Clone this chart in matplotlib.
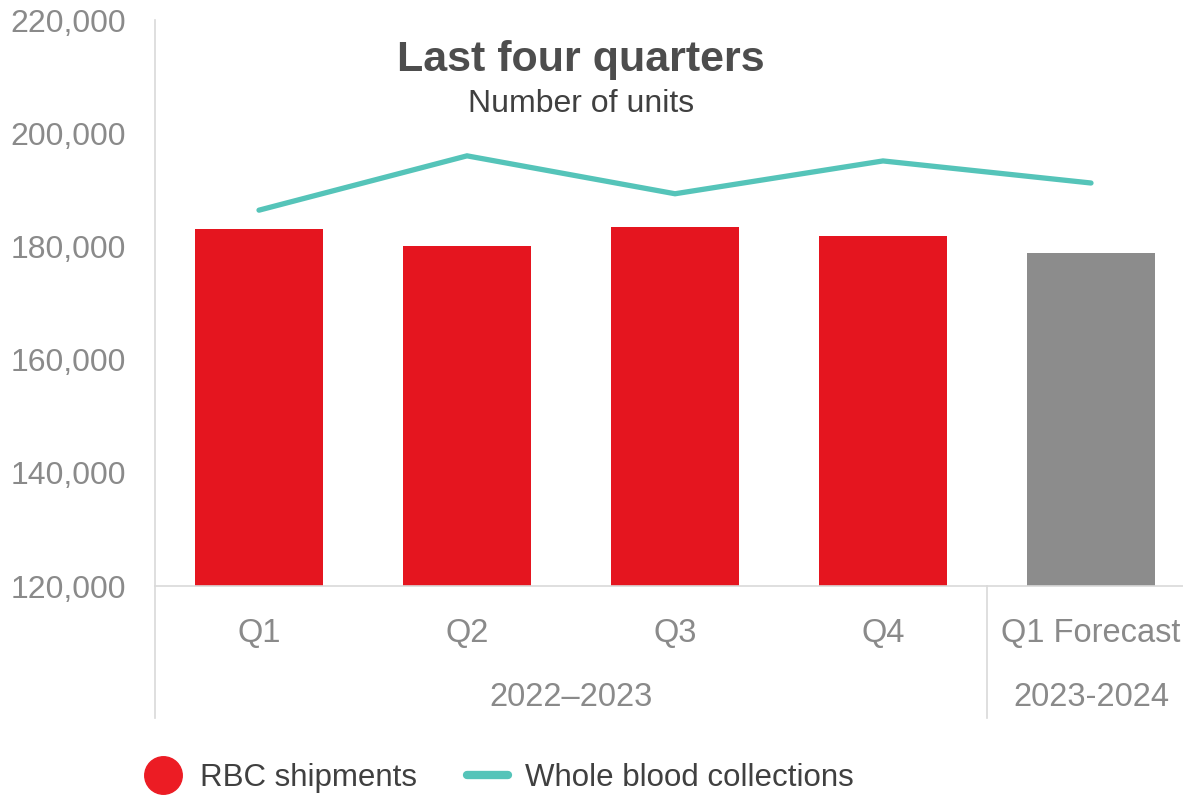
import matplotlib.pyplot as plt
from matplotlib.lines import Line2D

plt.rcParams['font.family'] = ['Liberation Sans', 'DejaVu Sans']

# Données
quarters = ['Q1', 'Q2', 'Q3', 'Q4', 'Q1 Forecast']
rbc_shipments = [183100, 180100, 183400, 181800, 178800]
whole_blood = [186400, 196000, 189300, 195100, 191200]
yticks = [120000, 140000, 160000, 180000, 200000, 220000]
groups = ['2022–2023', '2023-2024']

red = '#E5151F'
grey_bar = '#8C8C8C'
teal = '#55C4B9'
tick_grey = '#8A8A8A'
line_grey = '#D9D9D9'

fig = plt.figure(figsize=(11.83, 7.98), dpi=100)
ax = fig.add_axes([155/1183, 1 - 586/798, 1040/1183, 566/798])

x = list(range(len(quarters)))
colors = [red] * 4 + [grey_bar]
ax.bar(x, [v - 120000 for v in rbc_shipments], bottom=120000, width=0.62, color=colors)
ax.plot(x, whole_blood, color=teal, lw=3.8, solid_capstyle='round', solid_joinstyle='miter')

ax.set_xlim(-0.5, 4.5)
ax.set_ylim(120000, 220000)
ax.set_yticks(yticks)
ax.set_yticklabels([f'{v:,}' for v in yticks])
ax.tick_params(axis='y', length=0, pad=21, labelsize=23, labelcolor=tick_grey)
ax.set_xticks([])

for s in ['top', 'right', 'left']:
    ax.spines[s].set_visible(False)
ax.spines['bottom'].set_color(line_grey)
ax.spines['bottom'].set_linewidth(1.2)

# lignes verticales de l'axe des catégories
tr = ax.get_xaxis_transform()
ax.plot([-0.5, -0.5], [-132/566, 1.0], transform=tr, color=line_grey, lw=1.2, clip_on=False)
ax.plot([3.5, 3.5], [-132/566, 0], transform=tr, color=line_grey, lw=1.2, clip_on=False)

for i, q in enumerate(quarters):
    ax.text(i, -48/566, q, transform=tr, ha='center', va='center', fontsize=23.5, color=tick_grey)
ax.text(1.5, -112/566, groups[0], transform=tr, ha='center', va='center', fontsize=23.5, color=tick_grey)
ax.text(4, -112/566, groups[1], transform=tr, ha='center', va='center', fontsize=23.5, color=tick_grey)

fig.text(581/1183, 1 - 60/798, 'Last four quarters', ha='center', va='center',
         fontsize=31, fontweight='bold', color='#4D4D4D')
fig.text(581/1183, 1 - 104/798, 'Number of units', ha='center', va='center',
         fontsize=23, color='#404040')

handles = [Line2D([], [], marker='o', ls='none', markersize=27, color='#EC1C24'),
           Line2D([], [], color=teal, lw=6, solid_capstyle='round')]
fig.legend(handles, ['RBC shipments', 'Whole blood collections'], loc='center',
           bbox_to_anchor=(498/1183, 1 - 778/798), ncol=2, frameon=False, fontsize=22.5,
           labelcolor='#404040', handlelength=1.3, handletextpad=0.55, columnspacing=1.6)

fig.savefig('out.png', dpi=100)
